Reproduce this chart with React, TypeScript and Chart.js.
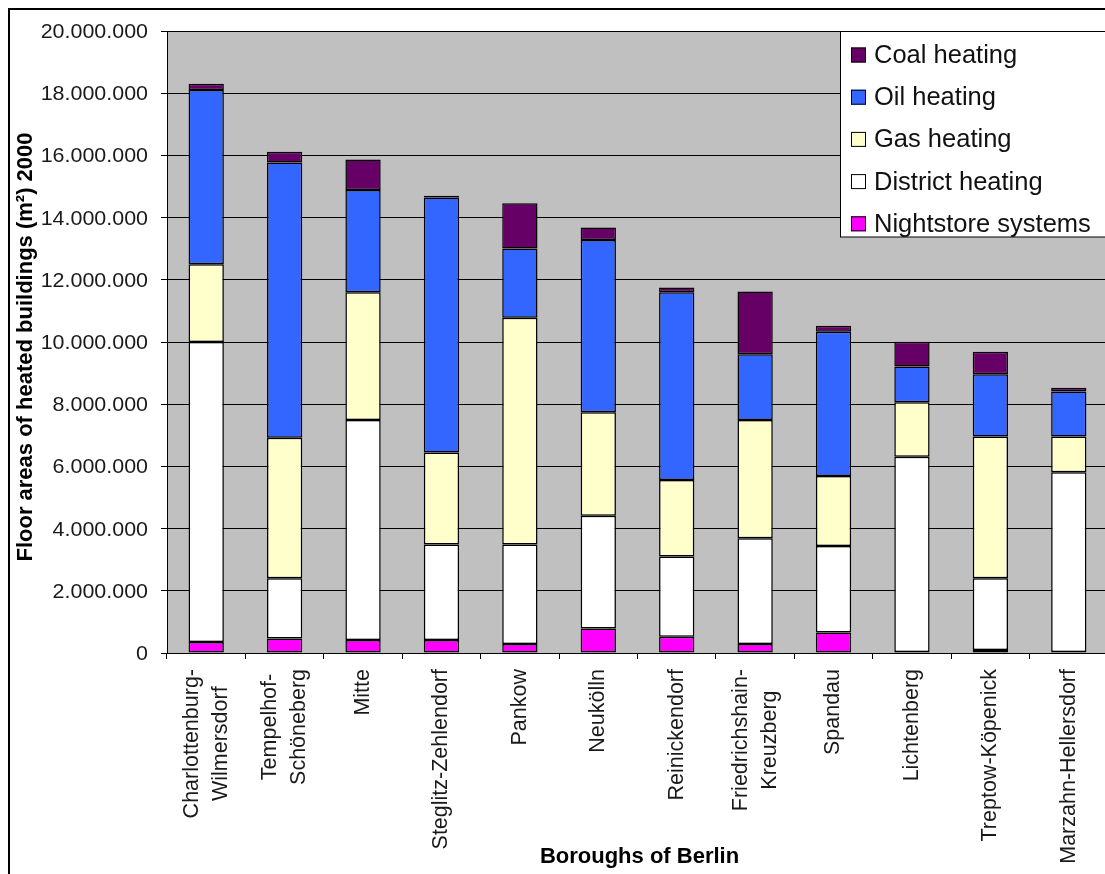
import React, { useEffect, useRef } from "react";
import { Chart, registerables } from "chart.js";

Chart.register(...registerables);

// Berlin boroughs, floor areas of heated buildings in 2000 (m²) by heating type
const boroughs: (string | string[])[] = [
  ["Charlottenburg-", "Wilmersdorf"],
  ["Tempelhof-", "Schöneberg"],
  "Mitte",
  "Steglitz-Zehlendorf",
  "Pankow",
  "Neukölln",
  "Reinickendorf",
  ["Friedrichshain-", "Kreuzberg"],
  "Spandau",
  "Lichtenberg",
  "Treptow-Köpenick",
  "Marzahn-Hellersdorf",
];

const nightstore = [350000, 470000, 420000, 420000, 290000, 790000, 520000, 290000, 660000, 30000, 100000, 30000];
const district = [9650000, 1930000, 7070000, 3070000, 3200000, 3620000, 2580000, 3400000, 2780000, 6280000, 2300000, 5780000];
const gas = [2500000, 4520000, 4110000, 2960000, 7290000, 3330000, 2460000, 3800000, 2250000, 1750000, 4560000, 1150000];
const oil = [5600000, 8850000, 3290000, 8200000, 2230000, 5540000, 6040000, 2120000, 4640000, 1150000, 2000000, 1450000];
const coal = [200000, 350000, 980000, 50000, 1450000, 400000, 150000, 2010000, 190000, 800000, 730000, 120000];

const seriesNames = ["Nightstore systems", "District heating", "Gas heating", "Oil heating", "Coal heating"];
const seriesColors = ["#FF00FF", "#FFFFFF", "#FFFFCC", "#3366FF", "#660066"];

const yMax = 20000000;
const yStep = 2000000;

const yTitle = "Floor areas of heated buildings (m²) 2000";
const xTitle = "Boroughs of Berlin";

const CW = 1125;
const CH = 880;
const FONT = "'Liberation Sans', Arial, Helvetica, sans-serif";

const fmt = (v: number) => String(Math.round(v)).replace(/\B(?=(\d{3})+(?!\d))/g, ".");

const decorations = {
  id: "decorations",
  beforeDraw(chart: any) {
    const { ctx, chartArea: a } = chart;
    ctx.save();
    ctx.fillStyle = "#FFFFFF";
    ctx.fillRect(0, 0, chart.width, chart.height);
    ctx.fillStyle = "#C0C0C0";
    ctx.fillRect(a.left, a.top, a.right - a.left, a.bottom - a.top);
    ctx.restore();
  },
  afterDraw(chart: any) {
    const { ctx, chartArea: a } = chart;
    const xs = chart.scales.x;
    const ys = chart.scales.y;
    ctx.save();

    // outer chart frame
    ctx.strokeStyle = "#000";
    ctx.lineWidth = 2;
    ctx.strokeRect(9, 9, chart.width + 50, chart.height + 50);

    // value axis labels
    ctx.fillStyle = "#1a1a1a";
    ctx.font = `19.5px ${FONT}`;
    ctx.textAlign = "right";
    ctx.textBaseline = "alphabetic";
    ys.ticks.forEach((t: any) => {
      const y = ys.getPixelForValue(t.value);
      ctx.save();
      ctx.translate(148, y + 7);
      ctx.scale(1.1, 1);
      ctx.fillText(fmt(t.value), 0, 0);
      ctx.restore();
    });

    // category labels, rotated, block centred on the tick
    ctx.font = `21.5px ${FONT}`;
    ctx.textAlign = "center";
    ctx.textBaseline = "middle";
    boroughs.forEach((lab, i) => {
      const lines = Array.isArray(lab) ? lab : [lab];
      const w = Math.max(...lines.map((l) => ctx.measureText(l).width));
      const cx = xs.getPixelForTick(i);
      ctx.save();
      ctx.translate(cx, 669 + w / 2);
      ctx.rotate(-Math.PI / 2);
      lines.forEach((l, k) => {
        ctx.fillText(l, 0, (k - (lines.length - 1) / 2) * 29);
      });
      ctx.restore();
    });

    // axis titles
    ctx.fillStyle = "#000";
    ctx.font = `bold 22px ${FONT}`;
    ctx.textAlign = "center";
    ctx.textBaseline = "alphabetic";
    ctx.fillText(xTitle, (a.left + a.right) / 2 + 2, 863);
    ctx.save();
    ctx.translate(32, (a.top + a.bottom) / 2 + 5);
    ctx.rotate(-Math.PI / 2);
    ctx.fillText(yTitle, 0, 0);
    ctx.restore();

    // legend box
    ctx.fillStyle = "#FFFFFF";
    ctx.fillRect(840, 31, 400, 206);
    ctx.strokeStyle = "#000";
    ctx.lineWidth = 1;
    ctx.strokeRect(840.5, 31.5, 400, 205.5);
    ctx.font = `25.5px ${FONT}`;
    ctx.textAlign = "left";
    ctx.textBaseline = "alphabetic";
    const order = [4, 3, 2, 1, 0];
    order.forEach((di, row) => {
      const cy = 55 + row * 42.2;
      ctx.fillStyle = seriesColors[di];
      ctx.fillRect(851, cy - 7.5, 15, 15);
      ctx.strokeStyle = "#000";
      ctx.strokeRect(851.5, cy - 7, 14, 14);
      ctx.fillStyle = "#111";
      ctx.fillText(chart.data.datasets[di].label, 874, cy + 8);
    });

    ctx.restore();
  },
};

export default function App() {
  const canvasRef = useRef<HTMLCanvasElement | null>(null);

  useEffect(() => {
    const canvas = canvasRef.current;
    if (!canvas) return;
    const values = [nightstore, district, gas, oil, coal];
    const chart = new Chart(canvas, {
      type: "bar",
      data: {
        labels: boroughs,
        datasets: values.map((data, i) => ({
          label: seriesNames[i],
          data,
          backgroundColor: seriesColors[i],
          borderColor: "#000",
          borderWidth: 1.5,
          borderSkipped: false,
          barPercentage: 0.45,
          categoryPercentage: 1,
        })),
      },
      options: {
        responsive: false,
        animation: false,
        devicePixelRatio: 1,
        layout: { padding: { top: 31, left: 0, right: CW - 1108, bottom: 0 } },
        plugins: {
          legend: { display: false },
          title: { display: false },
          tooltip: { enabled: false },
        },
        scales: {
          x: {
            stacked: true,
            ticks: { display: false },
            grid: {
              display: true,
              offset: true,
              drawOnChartArea: false,
              drawTicks: true,
              tickLength: 6,
              color: "#000",
              lineWidth: 1,
            },
            border: { display: true, color: "#000", width: 1 },
            afterFit: (s: any) => {
              s.height = CH - 653;
            },
          },
          y: {
            stacked: true,
            min: 0,
            max: yMax,
            ticks: { display: false, stepSize: yStep },
            grid: {
              display: true,
              drawTicks: true,
              tickLength: 6,
              color: "#000",
              lineWidth: 1,
            },
            border: { display: true, color: "#000", width: 1 },
            afterFit: (s: any) => {
              s.width = 167;
            },
          },
        },
      },
      plugins: [decorations],
    });
    return () => chart.destroy();
  }, []);

  return (
    <div
      style={{
        position: "fixed",
        left: 0,
        top: 0,
        width: 1105,
        height: 874,
        overflow: "hidden",
        background: "#fff",
      }}
    >
      <canvas ref={canvasRef} width={CW} height={CH} style={{ display: "block" }} />
    </div>
  );
}
